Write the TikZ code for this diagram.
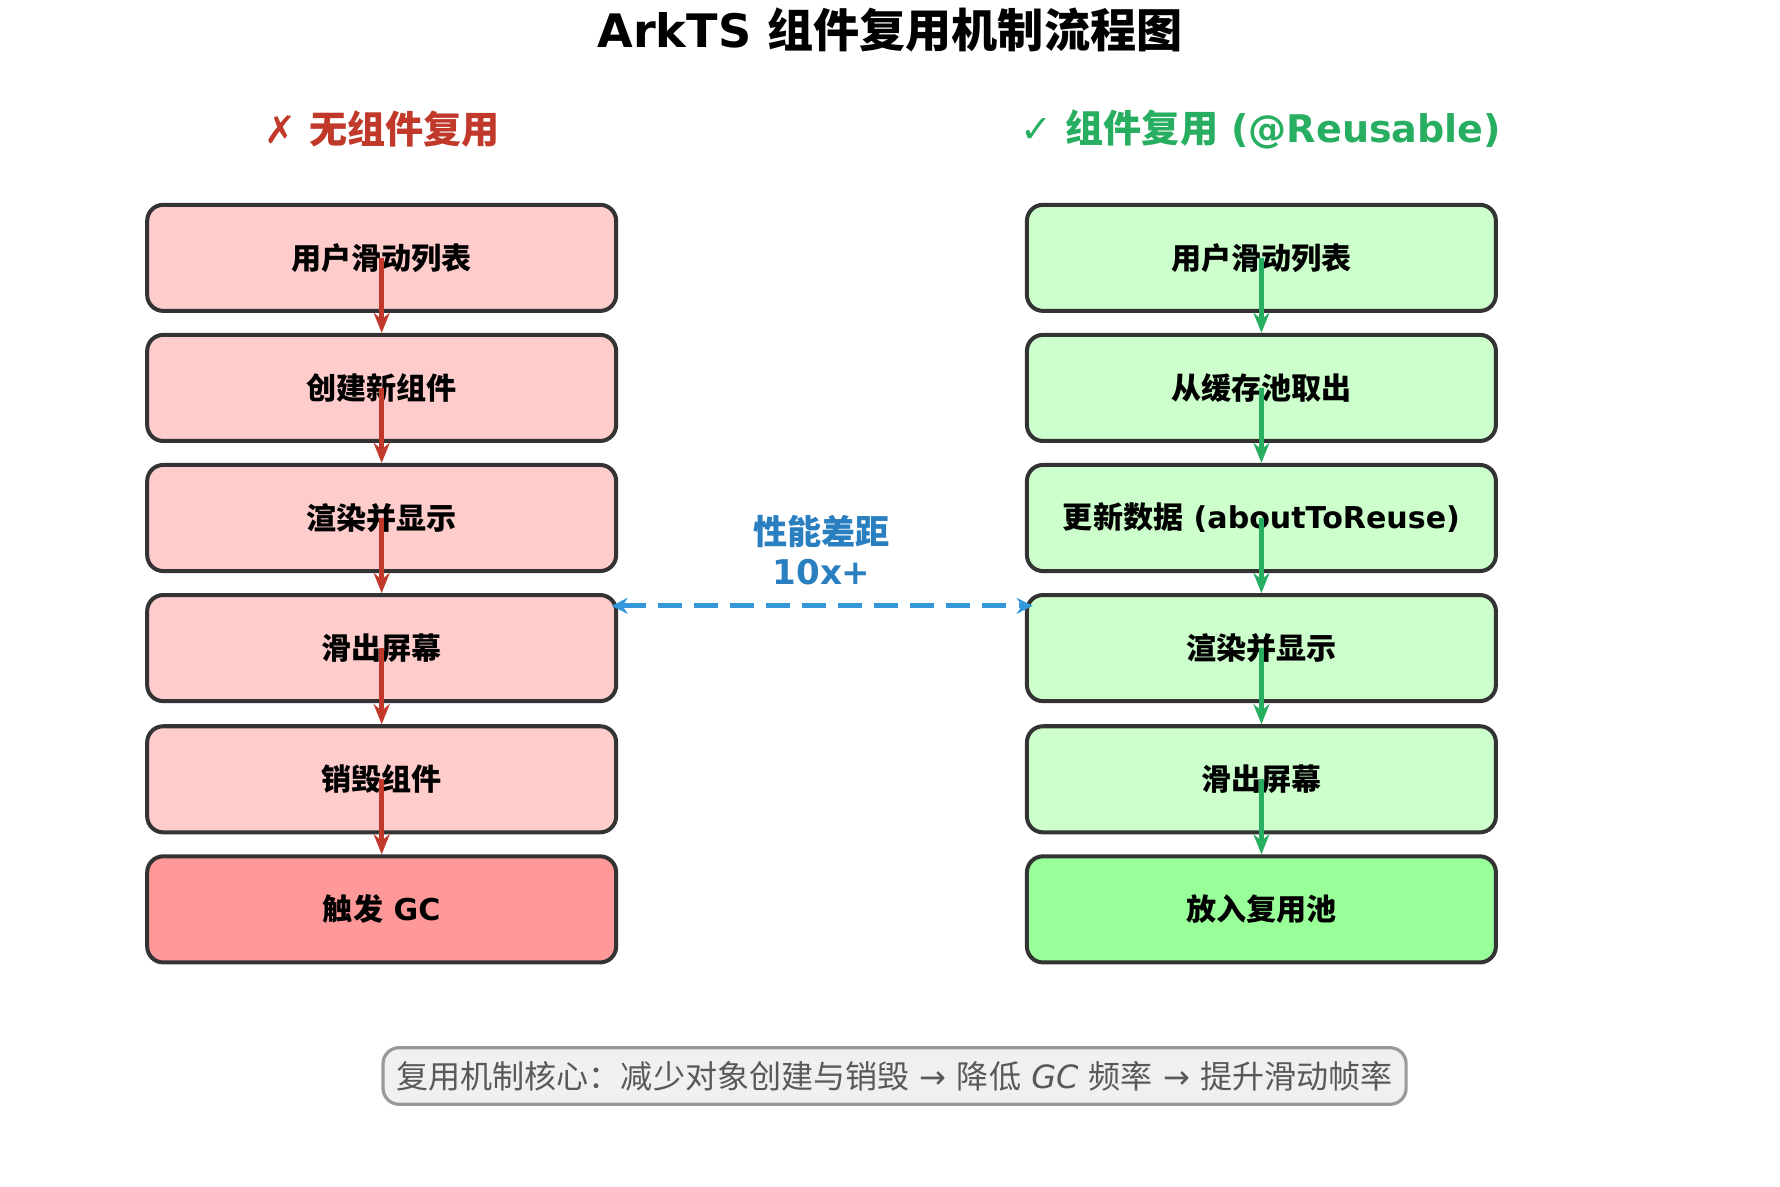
\documentclass[tikz,border=0pt]{standalone}
\usepackage{fontspec}
\setmainfont{DejaVu Sans}
\newfontfamily\cjk{Noto Sans CJK SC}
\usetikzlibrary{arrows.meta}
\usetikzlibrary{positioning}
\definecolor{redfill}{HTML}{FFCCCC}
\definecolor{redend}{HTML}{FF9999}
\definecolor{greenfill}{HTML}{CCFFCC}
\definecolor{greenend}{HTML}{99FF99}
\definecolor{redline}{HTML}{C0392B}
\definecolor{greenline}{HTML}{27AE60}
\definecolor{blueline}{HTML}{3498DB}
\definecolor{bluetext}{HTML}{2A7FC0}
\definecolor{boxline}{HTML}{333333}
\begin{document}
\begin{tikzpicture}[x=1cm,y=1cm]

   %Styles of boxes and arrows
   \tikzset{flowstep/.style={rectangle, rounded corners=4pt, minimum width=4.11cm, minimum height=0.93cm, draw=boxline, line width=1pt, font=\fontsize{7.5}{9}\selectfont\bfseries},
            redarrow/.style={redline, line width=1.2pt, -{Stealth[length=5pt,width=4pt]}},
            greenarrow/.style={greenline, line width=1.2pt, -{Stealth[length=5pt,width=4pt]}}}

   \useasboundingbox (0,0) rectangle (15.6,10.4);

   %Title and headers
   \node[font=\fontsize{11.5}{13}\selectfont\bfseries] (title) at (7.8,10.14) {ArkTS {\cjk 组件复用机制流程图}};
   \node[font=\fontsize{9.5}{11}\selectfont\bfseries, text=redline] (lhead) at (3.35,9.27) {✗ {\cjk 无组件复用}};
   \node[font=\fontsize{9.5}{11}\selectfont\bfseries, text=greenline] (rhead) at (11.05,9.27) {✓ {\cjk 组件复用} (@Reusable)};

   %Boxes
   \node[flowstep, fill=redfill] (l1) at (3.345,8.14) {\cjk 用户滑动列表};
   \node[flowstep, fill=redfill] (l2) at (3.345,7.00) {\cjk 创建新组件};
   \node[flowstep, fill=redfill] (l3) at (3.345,5.86) {\cjk 渲染并显示};
   \node[flowstep, fill=redfill] (l4) at (3.345,4.72) {\cjk 滑出屏幕};
   \node[flowstep, fill=redfill] (l5) at (3.345,3.57) {\cjk 销毁组件};
   \node[flowstep, fill=redend] (l6) at (3.345,2.43) {{\cjk 触发} GC};

   \node[flowstep, fill=greenfill] (r1) at (11.055,8.14) {\cjk 用户滑动列表};
   \node[flowstep, fill=greenfill] (r2) at (11.055,7.00) {\cjk 从缓存池取出};
   \node[flowstep, fill=greenfill] (r3) at (11.055,5.86) {{\cjk 更新数据} (aboutToReuse)};
   \node[flowstep, fill=greenfill] (r4) at (11.055,4.72) {\cjk 渲染并显示};
   \node[flowstep, fill=greenfill] (r5) at (11.055,3.57) {\cjk 滑出屏幕};
   \node[flowstep, fill=greenend] (r6) at (11.055,2.43) {\cjk 放入复用池};

   %Arrows
   \foreach \i/\j in {1/2,2/3,3/4,4/5,5/6} {
      \draw[redarrow] (l\i.center) -- (l\j.north);
      \draw[greenarrow] (r\i.center) -- (r\j.north);
   }

   %Comparison
   \coordinate (gapl) at (5.36,5.09);
   \coordinate (gapr) at (9.05,5.09);
   \draw[blueline, line width=1.3pt, dash pattern=on 6pt off 3pt, {Stealth[length=4pt,width=4pt]}-{Stealth[length=4pt,width=4pt]}] (gapl) -- (gapr);
   \node[font=\fontsize{8.5}{10}\selectfont\bfseries, text=bluetext, align=center] (gap) at (7.2,5.58) {{\cjk 性能差距}\\10x+};

   %Summary
   \node[rectangle, rounded corners=4pt, draw=gray!80, fill=gray!12, line width=0.8pt, minimum width=7.06cm, minimum height=0.43cm, text=black!65, font=\fontsize{8}{10}\selectfont] (summary) at (7.84,0.97) {{\cjk 复用机制核心：减少对象创建与销毁} → {\cjk 降低} \textit{GC} {\cjk 频率} → {\cjk 提升滑动帧率}};

\end{tikzpicture}
\end{document}
